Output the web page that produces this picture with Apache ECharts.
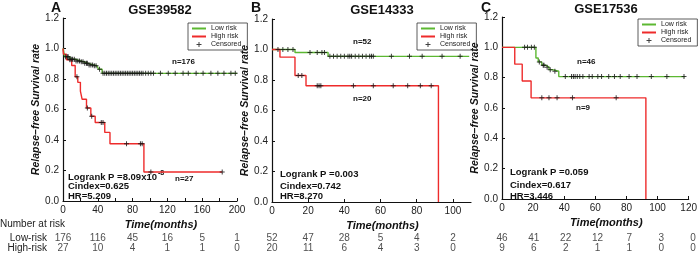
<!DOCTYPE html>
<html>
<head>
<meta charset="utf-8">
<script src="https://cdn.jsdelivr.net/npm/echarts@6/dist/echarts.min.js"></script>
<style>
  html, body { margin: 0; padding: 0; background: #fff; }
  #chart { width: 700px; height: 253px; }
</style>
</head>
<body>
<div id="chart"></div>
<script>
// KM curves (time in months, survival)
const lowA_t = [0, 2, 8, 14, 20, 24, 29, 35, 39, 41, 45, 200]
const lowA_s = [1, 0.946, 0.93, 0.918, 0.913, 0.903, 0.892, 0.887, 0.88, 0.864, 0.837, 0.837]
const lowA_cens = [3, 5, 6, 8, 10, 11, 13, 15, 17, 19, 21, 23, 25, 27, 28, 30, 32, 34, 36, 38, 42, 46, 48, 50, 52, 54, 56, 58, 60, 62, 64, 66, 68, 70, 72, 74, 76, 78, 80, 82, 84, 86, 88, 90, 92, 95, 98, 101, 104, 112, 121, 129, 138, 144, 153, 161, 170, 178, 185, 193, 198]
const highA_t = [0, 0.5, 4, 10, 14, 17, 20, 22, 27, 32, 37, 48, 54, 93, 183]
const highA_s = [1, 0.963, 0.926, 0.889, 0.815, 0.778, 0.72, 0.667, 0.61, 0.556, 0.515, 0.45, 0.375, 0.19, 0.19]
const highA_cens = [8, 16, 28, 33, 44, 46, 73, 89, 91, 101, 183]

const lowB_t = [0, 12.7, 31, 109]
const lowB_s = [1, 0.98, 0.955, 0.955]
const lowB_cens = [3.3, 6, 8.8, 11.6, 21, 25, 27.6, 29, 32, 34, 36, 38, 40, 42, 43, 44, 46, 48, 50, 52, 54, 55, 56, 66, 76, 83, 94, 104]
const highB_t = [0, 4.4, 12.7, 18.8, 92]
const highB_s = [1, 0.95, 0.83, 0.762, 0]
const highB_cens = [14.5, 16.5, 25, 26, 27, 45, 56, 67, 75, 82, 88]

const lowC_t = [0, 21.8, 23.3, 25.6, 28, 30.2, 32.3, 36.5, 117.6]
const lowC_s = [1, 0.93, 0.904, 0.882, 0.869, 0.853, 0.842, 0.807, 0.807]
const lowC_cens = [14.5, 16.4, 18.9, 20.8, 24, 26.5, 27, 29, 31, 34, 40.7, 44.7, 45.9, 47, 48.4, 50, 52, 56, 58, 61.6, 64, 68.6, 72.3, 76, 81.7, 86.8, 96, 106, 117]
const highC_t = [0, 8.2, 13, 18.7, 92.5]
const highC_s = [1, 0.889, 0.778, 0.667, 0]
const highC_cens = [25.6, 30.2, 35.4, 45.3, 73.4]

// number at risk tables
const riskA_t = [0, 40, 80, 120, 160, 200]
const riskA_low = [176, 116, 45, 16, 5, 1]
const riskA_high = [27, 10, 4, 1, 1, 0]
const riskB_t = [0, 20, 40, 60, 80, 100]
const riskB_low = [52, 47, 28, 5, 4, 2]
const riskB_high = [20, 11, 6, 4, 3, 0]
const riskC_t = [0, 20, 40, 60, 80, 100, 120]
const riskC_low = [46, 41, 22, 12, 7, 3, 0]
const riskC_high = [9, 6, 2, 1, 1, 0, 0]

const titles = ['GSE39582', 'GSE14333', 'GSE17536']
const letters = ['A', 'B', 'C']
const rows = ['Low-risk', 'High-risk']

const FN = '"Liberation Sans Narrow","Arial Narrow","Liberation Sans",Arial,sans-serif'
const FS = '"Liberation Sans",Arial,sans-serif'
const GREEN = '#5cb832'
const RED = '#ee2b2b'
const PLUS = 'path://M2,0H3V2H5V3H3V5H2V3H0V2H2Z'
const LINE = 'path://M0,0H14V2H0Z'

const panels = [
  { lowT: lowA_t, lowS: lowA_s, lowC: lowA_cens, highT: highA_t, highS: highA_s, highC: highA_cens,
    rT: riskA_t, rLow: riskA_low, rHigh: riskA_high, max: 200, step: 40, minor: 20,
    grid: { left: 63, top: 18, width: 174, height: 183 }, legend: { left: 188, top: 23 } },
  { lowT: lowB_t, lowS: lowB_s, lowC: lowB_cens, highT: highB_t, highS: highB_s, highC: highB_cens,
    rT: riskB_t, rLow: riskB_low, rHigh: riskB_high, max: 110, step: 20, minor: 20,
    grid: { left: 272, top: 19, width: 199, height: 183 }, legend: { left: 417, top: 23 } },
  { lowT: lowC_t, lowS: lowC_s, lowC: lowC_cens, highT: highC_t, highS: highC_s, highC: highC_cens,
    rT: riskC_t, rLow: riskC_low, rHigh: riskC_high, max: 120, step: 20, minor: 20,
    grid: { left: 502, top: 17, width: 191, height: 182 }, legend: { left: 638, top: 19 } }
]

function pairs(t, s) {
  return t.map((x, i) => [x, s[i]])
}
function survAt(t, s, x) {
  let v = s[0]
  for (let i = 0; i < t.length; i++) {
    if (t[i] <= x) v = s[i]
  }
  return v
}

const grids = [], xAxes = [], yAxes = [], series = [], legends = []

panels.forEach((p, k) => {
  grids.push(p.grid)
  grids.push({ left: p.grid.left, top: 233, width: p.grid.width, height: 20 })
  const gi = k * 2
  const tag = '#' + letters[k]

  xAxes.push({
    gridIndex: gi, type: 'value', min: 0, max: p.max, interval: p.minor,
    name: 'Time(months)', nameLocation: 'middle', nameGap: 16,
    nameTextStyle: { fontFamily: FS, fontSize: 11, fontWeight: 'bold', fontStyle: 'italic', color: '#111', padding: [0, 0, 0, 22] },
    axisLine: { lineStyle: { color: '#111', width: 1.2 } },
    axisTick: { inside: true, length: 3, lineStyle: { color: '#111' } },
    axisLabel: {
      margin: 4, fontFamily: FN, fontSize: 10, color: '#222', showMaxLabel: p.max % p.step === 0,
      formatter: v => (v % p.step === 0 ? String(v) : '')
    },
    splitLine: { show: false }
  })
  yAxes.push({
    gridIndex: gi, type: 'value', min: 0, max: 1.2, interval: 0.2,
    name: 'Relapse–free Survival rate', nameLocation: 'middle', nameGap: 20, nameRotate: 90,
    nameTextStyle: { fontFamily: FS, fontSize: 10.5, fontWeight: 'bold', fontStyle: 'italic', color: '#111' },
    axisLine: { show: true, lineStyle: { color: '#111', width: 1.2 } },
    axisTick: { show: true, inside: true, length: 3, lineStyle: { color: '#111' } },
    axisLabel: { margin: 4, fontFamily: FN, fontSize: 10, color: '#222', formatter: v => v.toFixed(1) },
    splitLine: { show: false }
  })
  // table axes
  xAxes.push({ gridIndex: gi + 1, type: 'value', min: 0, max: p.max, show: false })
  yAxes.push({
    gridIndex: gi + 1, type: 'category', data: rows, inverse: true,
    axisLine: { show: false }, axisTick: { show: false }, splitLine: { show: false },
    axisLabel: { show: k === 0, interval: 0, margin: 16, fontFamily: FN, fontSize: 10, color: '#222' }
  })

  series.push({
    name: 'Low risk' + tag, type: 'line', step: 'end', symbol: 'none', xAxisIndex: gi, yAxisIndex: gi,
    lineStyle: { color: GREEN, width: 1.4 }, itemStyle: { color: GREEN },
    data: pairs(p.lowT, p.lowS), animation: false, z: 2
  })
  series.push({
    name: 'High risk' + tag, type: 'line', step: 'end', symbol: 'none', xAxisIndex: gi, yAxisIndex: gi,
    lineStyle: { color: RED, width: 1.4 }, itemStyle: { color: RED },
    data: pairs(p.highT, p.highS), animation: false, z: 2
  })
  const cens = p.lowC.map(t => [t, survAt(p.lowT, p.lowS, t)])
    .concat(p.highC.map(t => [t, survAt(p.highT, p.highS, t)]))
  series.push({
    name: 'Censored' + tag, type: 'scatter', symbol: PLUS, symbolSize: 5, symbolKeepAspect: true,
    xAxisIndex: gi, yAxisIndex: gi, itemStyle: { color: '#111' }, data: cens, animation: false, z: 3
  })

  const table = []
  p.rT.forEach((t, i) => {
    table.push([t, 0, p.rLow[i]])
    table.push([t, 1, p.rHigh[i]])
  })
  series.push({
    type: 'scatter', xAxisIndex: gi + 1, yAxisIndex: gi + 1, symbolSize: 1,
    itemStyle: { color: 'transparent' }, data: table, animation: false, silent: true,
    label: { show: true, position: 'inside', formatter: d => String(d.value[2]), fontFamily: FN, fontSize: 10, color: '#222' }
  })

  legends.push(Object.assign({
    orient: 'vertical', itemWidth: 14, itemHeight: 5, itemGap: 1,
    padding: [2, 6, 2, 4], borderColor: '#333', borderWidth: 0.8,
    selectedMode: false, symbolKeepAspect: true,
    itemStyle: { borderWidth: 0 },
    lineStyle: { width: 0 },
    formatter: name => name.split('#')[0],
    textStyle: { fontFamily: FS, fontSize: 7, color: '#222', lineHeight: 7 },
    data: [
      { name: 'Low risk' + tag, icon: LINE, itemStyle: { color: GREEN } },
      { name: 'High risk' + tag, icon: LINE, itemStyle: { color: RED } },
      { name: 'Censored' + tag, icon: PLUS, itemStyle: { color: '#111' } }
    ]
  }, p.legend))
})

const titleList = []
titles.forEach((t, i) => {
  titleList.push({
    text: t, left: [160, 382, 606][i], top: [4, 4, 3][i], padding: 0, textAlign: 'center',
    textStyle: { fontFamily: FS, fontSize: 13, fontWeight: 'bold', color: '#111' }
  })
  titleList.push({
    text: letters[i], left: [51, 251, 481][i], top: 1, padding: 0,
    textStyle: { fontFamily: FS, fontSize: 14, fontWeight: 'bold', color: '#111' }
  })
})

const bold9 = 'bold 9.5px ' + FS
function note(text, x, y, align, font) {
  return { type: 'text', left: x, top: y, style: { text: text, font: font || bold9, fill: '#111', textAlign: align || 'left' } }
}

const graphics = [
  { type: 'text', left: 0, top: 219, style: { text: 'Number at risk', font: '10px ' + FN, fill: '#222' } },
  note('n=176', 172, 58, 'left', 'bold 8px ' + FS),
  note('n=27', 175, 175, 'left', 'bold 8px ' + FS),
  {
    type: 'text', left: 68, top: 170,
    style: {
      text: '{a|Logrank P =8.09x10}{s|-8}', fill: '#111',
      rich: { a: { font: bold9, lineHeight: 12 }, s: { font: 'bold 7px ' + FS, padding: [0, 0, 7, 1] } }
    }
  },
  note('Cindex=0.625', 68, 181),
  note('HR=5.209', 68, 191),
  note('n=52', 353, 38, 'left', 'bold 8px ' + FS),
  note('n=20', 353, 95, 'left', 'bold 8px ' + FS),
  note('Logrank P =0.003', 280, 169),
  note('Cindex=0.742', 280, 181),
  note('HR=8.270', 280, 191),
  note('n=46', 577, 58, 'left', 'bold 8px ' + FS),
  note('n=9', 576, 104, 'left', 'bold 8px ' + FS),
  note('Logrank P =0.059', 510, 167),
  note('Cindex=0.617', 510, 180),
  note('HR=3.446', 510, 191)
]

const chart = echarts.init(document.getElementById('chart'))
chart.setOption({
  animation: false,
  backgroundColor: '#fff',
  title: titleList,
  legend: legends,
  grid: grids,
  xAxis: xAxes,
  yAxis: yAxes,
  series: series,
  graphic: graphics
})
</script>
</body>
</html>
